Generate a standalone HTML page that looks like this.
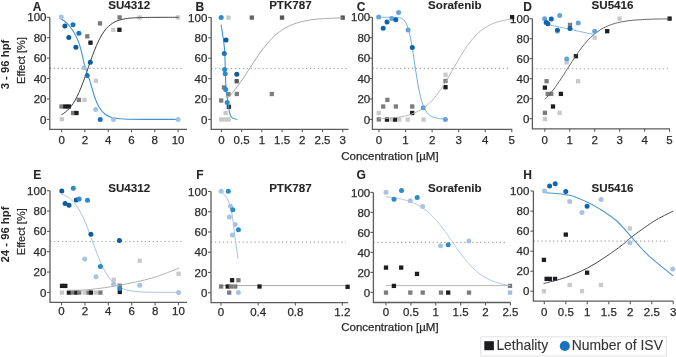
<!DOCTYPE html>
<html><head><meta charset="utf-8"><style>
html,body{margin:0;padding:0;background:#fff;width:676px;height:357px;overflow:hidden;position:relative}
</style></head><body>
<svg width="676" height="357" viewBox="0 0 676 357" style="position:absolute;left:0;top:0;font-family:'Liberation Sans', sans-serif;will-change:transform">
<rect width="676" height="357" fill="#fff"/>
<line x1="49.80" y1="68.35" x2="184.00" y2="68.35" stroke="#a8a8a8" stroke-width="1.1" stroke-dasharray="1.3 2.65"/>
<path d="M49.80,17.30 L49.80,129.30 L187.00,129.30" fill="none" stroke="#5c5c5c" stroke-width="1.3"/>
<line x1="46.80" y1="119.40" x2="49.80" y2="119.40" stroke="#5c5c5c" stroke-width="1.1"/>
<text x="46.50" y="123.50" font-size="11.5" text-anchor="end" font-weight="normal" fill="#2a2a2a" stroke="#2a2a2a" stroke-width="0.25" >0</text>
<line x1="46.80" y1="98.98" x2="49.80" y2="98.98" stroke="#5c5c5c" stroke-width="1.1"/>
<text x="46.50" y="103.08" font-size="11.5" text-anchor="end" font-weight="normal" fill="#2a2a2a" stroke="#2a2a2a" stroke-width="0.25" >20</text>
<line x1="46.80" y1="78.56" x2="49.80" y2="78.56" stroke="#5c5c5c" stroke-width="1.1"/>
<text x="46.50" y="82.66" font-size="11.5" text-anchor="end" font-weight="normal" fill="#2a2a2a" stroke="#2a2a2a" stroke-width="0.25" >40</text>
<line x1="46.80" y1="58.14" x2="49.80" y2="58.14" stroke="#5c5c5c" stroke-width="1.1"/>
<text x="46.50" y="62.24" font-size="11.5" text-anchor="end" font-weight="normal" fill="#2a2a2a" stroke="#2a2a2a" stroke-width="0.25" >60</text>
<line x1="46.80" y1="37.72" x2="49.80" y2="37.72" stroke="#5c5c5c" stroke-width="1.1"/>
<text x="46.50" y="41.82" font-size="11.5" text-anchor="end" font-weight="normal" fill="#2a2a2a" stroke="#2a2a2a" stroke-width="0.25" >80</text>
<line x1="46.80" y1="17.30" x2="49.80" y2="17.30" stroke="#5c5c5c" stroke-width="1.1"/>
<text x="46.50" y="21.40" font-size="11.5" text-anchor="end" font-weight="normal" fill="#2a2a2a" stroke="#2a2a2a" stroke-width="0.25" >100</text>
<line x1="61.60" y1="129.3" x2="61.60" y2="132.3" stroke="#5c5c5c" stroke-width="1.1"/>
<text x="61.60" y="144.20" font-size="11.5" text-anchor="middle" font-weight="normal" fill="#2a2a2a" stroke="#2a2a2a" stroke-width="0.25" >0</text>
<line x1="84.90" y1="129.3" x2="84.90" y2="132.3" stroke="#5c5c5c" stroke-width="1.1"/>
<text x="84.90" y="144.20" font-size="11.5" text-anchor="middle" font-weight="normal" fill="#2a2a2a" stroke="#2a2a2a" stroke-width="0.25" >2</text>
<line x1="108.20" y1="129.3" x2="108.20" y2="132.3" stroke="#5c5c5c" stroke-width="1.1"/>
<text x="108.20" y="144.20" font-size="11.5" text-anchor="middle" font-weight="normal" fill="#2a2a2a" stroke="#2a2a2a" stroke-width="0.25" >4</text>
<line x1="131.50" y1="129.3" x2="131.50" y2="132.3" stroke="#5c5c5c" stroke-width="1.1"/>
<text x="131.50" y="144.20" font-size="11.5" text-anchor="middle" font-weight="normal" fill="#2a2a2a" stroke="#2a2a2a" stroke-width="0.25" >6</text>
<line x1="154.80" y1="129.3" x2="154.80" y2="132.3" stroke="#5c5c5c" stroke-width="1.1"/>
<text x="154.80" y="144.20" font-size="11.5" text-anchor="middle" font-weight="normal" fill="#2a2a2a" stroke="#2a2a2a" stroke-width="0.25" >8</text>
<line x1="178.10" y1="129.3" x2="178.10" y2="132.3" stroke="#5c5c5c" stroke-width="1.1"/>
<text x="178.10" y="144.20" font-size="11.5" text-anchor="middle" font-weight="normal" fill="#2a2a2a" stroke="#2a2a2a" stroke-width="0.25" >10</text>
<line x1="211.20" y1="68.45" x2="348.00" y2="68.45" stroke="#a8a8a8" stroke-width="1.1" stroke-dasharray="1.3 2.65"/>
<path d="M211.20,17.50 L211.20,129.30 L348.50,129.30" fill="none" stroke="#5c5c5c" stroke-width="1.3"/>
<line x1="208.20" y1="119.40" x2="211.20" y2="119.40" stroke="#5c5c5c" stroke-width="1.1"/>
<text x="207.30" y="123.50" font-size="11.5" text-anchor="end" font-weight="normal" fill="#2a2a2a" stroke="#2a2a2a" stroke-width="0.25" >0</text>
<line x1="208.20" y1="99.02" x2="211.20" y2="99.02" stroke="#5c5c5c" stroke-width="1.1"/>
<text x="207.30" y="103.12" font-size="11.5" text-anchor="end" font-weight="normal" fill="#2a2a2a" stroke="#2a2a2a" stroke-width="0.25" >20</text>
<line x1="208.20" y1="78.64" x2="211.20" y2="78.64" stroke="#5c5c5c" stroke-width="1.1"/>
<text x="207.30" y="82.74" font-size="11.5" text-anchor="end" font-weight="normal" fill="#2a2a2a" stroke="#2a2a2a" stroke-width="0.25" >40</text>
<line x1="208.20" y1="58.26" x2="211.20" y2="58.26" stroke="#5c5c5c" stroke-width="1.1"/>
<text x="207.30" y="62.36" font-size="11.5" text-anchor="end" font-weight="normal" fill="#2a2a2a" stroke="#2a2a2a" stroke-width="0.25" >60</text>
<line x1="208.20" y1="37.88" x2="211.20" y2="37.88" stroke="#5c5c5c" stroke-width="1.1"/>
<text x="207.30" y="41.98" font-size="11.5" text-anchor="end" font-weight="normal" fill="#2a2a2a" stroke="#2a2a2a" stroke-width="0.25" >80</text>
<line x1="208.20" y1="17.50" x2="211.20" y2="17.50" stroke="#5c5c5c" stroke-width="1.1"/>
<text x="207.30" y="21.60" font-size="11.5" text-anchor="end" font-weight="normal" fill="#2a2a2a" stroke="#2a2a2a" stroke-width="0.25" >100</text>
<line x1="221.40" y1="129.3" x2="221.40" y2="132.3" stroke="#5c5c5c" stroke-width="1.1"/>
<text x="221.40" y="144.20" font-size="11.5" text-anchor="middle" font-weight="normal" fill="#2a2a2a" stroke="#2a2a2a" stroke-width="0.25" >0</text>
<line x1="241.62" y1="129.3" x2="241.62" y2="132.3" stroke="#5c5c5c" stroke-width="1.1"/>
<text x="241.62" y="144.20" font-size="11.5" text-anchor="middle" font-weight="normal" fill="#2a2a2a" stroke="#2a2a2a" stroke-width="0.25" >0.5</text>
<line x1="261.85" y1="129.3" x2="261.85" y2="132.3" stroke="#5c5c5c" stroke-width="1.1"/>
<text x="261.85" y="144.20" font-size="11.5" text-anchor="middle" font-weight="normal" fill="#2a2a2a" stroke="#2a2a2a" stroke-width="0.25" >1</text>
<line x1="282.07" y1="129.3" x2="282.07" y2="132.3" stroke="#5c5c5c" stroke-width="1.1"/>
<text x="282.07" y="144.20" font-size="11.5" text-anchor="middle" font-weight="normal" fill="#2a2a2a" stroke="#2a2a2a" stroke-width="0.25" >1.5</text>
<line x1="302.30" y1="129.3" x2="302.30" y2="132.3" stroke="#5c5c5c" stroke-width="1.1"/>
<text x="302.30" y="144.20" font-size="11.5" text-anchor="middle" font-weight="normal" fill="#2a2a2a" stroke="#2a2a2a" stroke-width="0.25" >2</text>
<line x1="322.52" y1="129.3" x2="322.52" y2="132.3" stroke="#5c5c5c" stroke-width="1.1"/>
<text x="322.52" y="144.20" font-size="11.5" text-anchor="middle" font-weight="normal" fill="#2a2a2a" stroke="#2a2a2a" stroke-width="0.25" >2.5</text>
<line x1="342.75" y1="129.3" x2="342.75" y2="132.3" stroke="#5c5c5c" stroke-width="1.1"/>
<text x="342.75" y="144.20" font-size="11.5" text-anchor="middle" font-weight="normal" fill="#2a2a2a" stroke="#2a2a2a" stroke-width="0.25" >3</text>
<line x1="372.40" y1="68.35" x2="508.00" y2="68.35" stroke="#a8a8a8" stroke-width="1.1" stroke-dasharray="1.3 2.65"/>
<path d="M372.40,17.30 L372.40,129.30 L512.20,129.30" fill="none" stroke="#5c5c5c" stroke-width="1.3"/>
<line x1="369.40" y1="119.40" x2="372.40" y2="119.40" stroke="#5c5c5c" stroke-width="1.1"/>
<text x="370.20" y="123.50" font-size="11.5" text-anchor="end" font-weight="normal" fill="#2a2a2a" stroke="#2a2a2a" stroke-width="0.25" >0</text>
<line x1="369.40" y1="98.98" x2="372.40" y2="98.98" stroke="#5c5c5c" stroke-width="1.1"/>
<text x="370.20" y="103.08" font-size="11.5" text-anchor="end" font-weight="normal" fill="#2a2a2a" stroke="#2a2a2a" stroke-width="0.25" >20</text>
<line x1="369.40" y1="78.56" x2="372.40" y2="78.56" stroke="#5c5c5c" stroke-width="1.1"/>
<text x="370.20" y="82.66" font-size="11.5" text-anchor="end" font-weight="normal" fill="#2a2a2a" stroke="#2a2a2a" stroke-width="0.25" >40</text>
<line x1="369.40" y1="58.14" x2="372.40" y2="58.14" stroke="#5c5c5c" stroke-width="1.1"/>
<text x="370.20" y="62.24" font-size="11.5" text-anchor="end" font-weight="normal" fill="#2a2a2a" stroke="#2a2a2a" stroke-width="0.25" >60</text>
<line x1="369.40" y1="37.72" x2="372.40" y2="37.72" stroke="#5c5c5c" stroke-width="1.1"/>
<text x="370.20" y="41.82" font-size="11.5" text-anchor="end" font-weight="normal" fill="#2a2a2a" stroke="#2a2a2a" stroke-width="0.25" >80</text>
<line x1="369.40" y1="17.30" x2="372.40" y2="17.30" stroke="#5c5c5c" stroke-width="1.1"/>
<text x="370.20" y="21.40" font-size="11.5" text-anchor="end" font-weight="normal" fill="#2a2a2a" stroke="#2a2a2a" stroke-width="0.25" >100</text>
<line x1="379.00" y1="129.3" x2="379.00" y2="132.3" stroke="#5c5c5c" stroke-width="1.1"/>
<text x="379.00" y="144.20" font-size="11.5" text-anchor="middle" font-weight="normal" fill="#2a2a2a" stroke="#2a2a2a" stroke-width="0.25" >0</text>
<line x1="405.56" y1="129.3" x2="405.56" y2="132.3" stroke="#5c5c5c" stroke-width="1.1"/>
<text x="405.56" y="144.20" font-size="11.5" text-anchor="middle" font-weight="normal" fill="#2a2a2a" stroke="#2a2a2a" stroke-width="0.25" >1</text>
<line x1="432.12" y1="129.3" x2="432.12" y2="132.3" stroke="#5c5c5c" stroke-width="1.1"/>
<text x="432.12" y="144.20" font-size="11.5" text-anchor="middle" font-weight="normal" fill="#2a2a2a" stroke="#2a2a2a" stroke-width="0.25" >2</text>
<line x1="458.68" y1="129.3" x2="458.68" y2="132.3" stroke="#5c5c5c" stroke-width="1.1"/>
<text x="458.68" y="144.20" font-size="11.5" text-anchor="middle" font-weight="normal" fill="#2a2a2a" stroke="#2a2a2a" stroke-width="0.25" >3</text>
<line x1="485.24" y1="129.3" x2="485.24" y2="132.3" stroke="#5c5c5c" stroke-width="1.1"/>
<text x="485.24" y="144.20" font-size="11.5" text-anchor="middle" font-weight="normal" fill="#2a2a2a" stroke="#2a2a2a" stroke-width="0.25" >4</text>
<line x1="511.80" y1="129.3" x2="511.80" y2="132.3" stroke="#5c5c5c" stroke-width="1.1"/>
<text x="511.80" y="144.20" font-size="11.5" text-anchor="middle" font-weight="normal" fill="#2a2a2a" stroke="#2a2a2a" stroke-width="0.25" >5</text>
<line x1="532.40" y1="68.70" x2="668.00" y2="68.70" stroke="#a8a8a8" stroke-width="1.1" stroke-dasharray="1.3 2.65"/>
<path d="M532.40,18.70 L532.40,128.80 L670.00,128.80" fill="none" stroke="#5c5c5c" stroke-width="1.3"/>
<line x1="529.40" y1="118.70" x2="532.40" y2="118.70" stroke="#5c5c5c" stroke-width="1.1"/>
<text x="529.30" y="122.80" font-size="11.5" text-anchor="end" font-weight="normal" fill="#2a2a2a" stroke="#2a2a2a" stroke-width="0.25" >0</text>
<line x1="529.40" y1="98.70" x2="532.40" y2="98.70" stroke="#5c5c5c" stroke-width="1.1"/>
<text x="529.30" y="102.80" font-size="11.5" text-anchor="end" font-weight="normal" fill="#2a2a2a" stroke="#2a2a2a" stroke-width="0.25" >20</text>
<line x1="529.40" y1="78.70" x2="532.40" y2="78.70" stroke="#5c5c5c" stroke-width="1.1"/>
<text x="529.30" y="82.80" font-size="11.5" text-anchor="end" font-weight="normal" fill="#2a2a2a" stroke="#2a2a2a" stroke-width="0.25" >40</text>
<line x1="529.40" y1="58.70" x2="532.40" y2="58.70" stroke="#5c5c5c" stroke-width="1.1"/>
<text x="529.30" y="62.80" font-size="11.5" text-anchor="end" font-weight="normal" fill="#2a2a2a" stroke="#2a2a2a" stroke-width="0.25" >60</text>
<line x1="529.40" y1="38.70" x2="532.40" y2="38.70" stroke="#5c5c5c" stroke-width="1.1"/>
<text x="529.30" y="42.80" font-size="11.5" text-anchor="end" font-weight="normal" fill="#2a2a2a" stroke="#2a2a2a" stroke-width="0.25" >80</text>
<line x1="529.40" y1="18.70" x2="532.40" y2="18.70" stroke="#5c5c5c" stroke-width="1.1"/>
<text x="529.30" y="22.80" font-size="11.5" text-anchor="end" font-weight="normal" fill="#2a2a2a" stroke="#2a2a2a" stroke-width="0.25" >100</text>
<line x1="544.80" y1="128.8" x2="544.80" y2="131.8" stroke="#5c5c5c" stroke-width="1.1"/>
<text x="544.80" y="144.20" font-size="11.5" text-anchor="middle" font-weight="normal" fill="#2a2a2a" stroke="#2a2a2a" stroke-width="0.25" >0</text>
<line x1="569.75" y1="128.8" x2="569.75" y2="131.8" stroke="#5c5c5c" stroke-width="1.1"/>
<text x="569.75" y="144.20" font-size="11.5" text-anchor="middle" font-weight="normal" fill="#2a2a2a" stroke="#2a2a2a" stroke-width="0.25" >1</text>
<line x1="594.70" y1="128.8" x2="594.70" y2="131.8" stroke="#5c5c5c" stroke-width="1.1"/>
<text x="594.70" y="144.20" font-size="11.5" text-anchor="middle" font-weight="normal" fill="#2a2a2a" stroke="#2a2a2a" stroke-width="0.25" >2</text>
<line x1="619.65" y1="128.8" x2="619.65" y2="131.8" stroke="#5c5c5c" stroke-width="1.1"/>
<text x="619.65" y="144.20" font-size="11.5" text-anchor="middle" font-weight="normal" fill="#2a2a2a" stroke="#2a2a2a" stroke-width="0.25" >3</text>
<line x1="644.60" y1="128.8" x2="644.60" y2="131.8" stroke="#5c5c5c" stroke-width="1.1"/>
<text x="644.60" y="144.20" font-size="11.5" text-anchor="middle" font-weight="normal" fill="#2a2a2a" stroke="#2a2a2a" stroke-width="0.25" >4</text>
<line x1="669.55" y1="128.8" x2="669.55" y2="131.8" stroke="#5c5c5c" stroke-width="1.1"/>
<text x="669.55" y="144.20" font-size="11.5" text-anchor="middle" font-weight="normal" fill="#2a2a2a" stroke="#2a2a2a" stroke-width="0.25" >5</text>
<line x1="50.00" y1="241.55" x2="184.00" y2="241.55" stroke="#a8a8a8" stroke-width="1.1" stroke-dasharray="1.3 2.65"/>
<path d="M50.00,190.70 L50.00,302.40 L187.00,302.40" fill="none" stroke="#5c5c5c" stroke-width="1.3"/>
<line x1="47.00" y1="292.40" x2="50.00" y2="292.40" stroke="#5c5c5c" stroke-width="1.1"/>
<text x="46.30" y="296.50" font-size="11.5" text-anchor="end" font-weight="normal" fill="#2a2a2a" stroke="#2a2a2a" stroke-width="0.25" >0</text>
<line x1="47.00" y1="272.06" x2="50.00" y2="272.06" stroke="#5c5c5c" stroke-width="1.1"/>
<text x="46.30" y="276.16" font-size="11.5" text-anchor="end" font-weight="normal" fill="#2a2a2a" stroke="#2a2a2a" stroke-width="0.25" >20</text>
<line x1="47.00" y1="251.72" x2="50.00" y2="251.72" stroke="#5c5c5c" stroke-width="1.1"/>
<text x="46.30" y="255.82" font-size="11.5" text-anchor="end" font-weight="normal" fill="#2a2a2a" stroke="#2a2a2a" stroke-width="0.25" >40</text>
<line x1="47.00" y1="231.38" x2="50.00" y2="231.38" stroke="#5c5c5c" stroke-width="1.1"/>
<text x="46.30" y="235.48" font-size="11.5" text-anchor="end" font-weight="normal" fill="#2a2a2a" stroke="#2a2a2a" stroke-width="0.25" >60</text>
<line x1="47.00" y1="211.04" x2="50.00" y2="211.04" stroke="#5c5c5c" stroke-width="1.1"/>
<text x="46.30" y="215.14" font-size="11.5" text-anchor="end" font-weight="normal" fill="#2a2a2a" stroke="#2a2a2a" stroke-width="0.25" >80</text>
<line x1="47.00" y1="190.70" x2="50.00" y2="190.70" stroke="#5c5c5c" stroke-width="1.1"/>
<text x="46.30" y="194.80" font-size="11.5" text-anchor="end" font-weight="normal" fill="#2a2a2a" stroke="#2a2a2a" stroke-width="0.25" >100</text>
<line x1="61.50" y1="302.4" x2="61.50" y2="305.4" stroke="#5c5c5c" stroke-width="1.1"/>
<text x="61.50" y="314.50" font-size="11.5" text-anchor="middle" font-weight="normal" fill="#2a2a2a" stroke="#2a2a2a" stroke-width="0.25" >0</text>
<line x1="84.90" y1="302.4" x2="84.90" y2="305.4" stroke="#5c5c5c" stroke-width="1.1"/>
<text x="84.90" y="314.50" font-size="11.5" text-anchor="middle" font-weight="normal" fill="#2a2a2a" stroke="#2a2a2a" stroke-width="0.25" >2</text>
<line x1="108.30" y1="302.4" x2="108.30" y2="305.4" stroke="#5c5c5c" stroke-width="1.1"/>
<text x="108.30" y="314.50" font-size="11.5" text-anchor="middle" font-weight="normal" fill="#2a2a2a" stroke="#2a2a2a" stroke-width="0.25" >4</text>
<line x1="131.70" y1="302.4" x2="131.70" y2="305.4" stroke="#5c5c5c" stroke-width="1.1"/>
<text x="131.70" y="314.50" font-size="11.5" text-anchor="middle" font-weight="normal" fill="#2a2a2a" stroke="#2a2a2a" stroke-width="0.25" >6</text>
<line x1="155.10" y1="302.4" x2="155.10" y2="305.4" stroke="#5c5c5c" stroke-width="1.1"/>
<text x="155.10" y="314.50" font-size="11.5" text-anchor="middle" font-weight="normal" fill="#2a2a2a" stroke="#2a2a2a" stroke-width="0.25" >8</text>
<line x1="178.50" y1="302.4" x2="178.50" y2="305.4" stroke="#5c5c5c" stroke-width="1.1"/>
<text x="178.50" y="314.50" font-size="11.5" text-anchor="middle" font-weight="normal" fill="#2a2a2a" stroke="#2a2a2a" stroke-width="0.25" >10</text>
<line x1="211.00" y1="242.10" x2="346.00" y2="242.10" stroke="#a8a8a8" stroke-width="1.1" stroke-dasharray="1.3 2.65"/>
<path d="M211.00,191.50 L211.00,302.60 L348.20,302.60" fill="none" stroke="#5c5c5c" stroke-width="1.3"/>
<line x1="208.00" y1="292.70" x2="211.00" y2="292.70" stroke="#5c5c5c" stroke-width="1.1"/>
<text x="207.30" y="296.80" font-size="11.5" text-anchor="end" font-weight="normal" fill="#2a2a2a" stroke="#2a2a2a" stroke-width="0.25" >0</text>
<line x1="208.00" y1="272.46" x2="211.00" y2="272.46" stroke="#5c5c5c" stroke-width="1.1"/>
<text x="207.30" y="276.56" font-size="11.5" text-anchor="end" font-weight="normal" fill="#2a2a2a" stroke="#2a2a2a" stroke-width="0.25" >20</text>
<line x1="208.00" y1="252.22" x2="211.00" y2="252.22" stroke="#5c5c5c" stroke-width="1.1"/>
<text x="207.30" y="256.32" font-size="11.5" text-anchor="end" font-weight="normal" fill="#2a2a2a" stroke="#2a2a2a" stroke-width="0.25" >40</text>
<line x1="208.00" y1="231.98" x2="211.00" y2="231.98" stroke="#5c5c5c" stroke-width="1.1"/>
<text x="207.30" y="236.08" font-size="11.5" text-anchor="end" font-weight="normal" fill="#2a2a2a" stroke="#2a2a2a" stroke-width="0.25" >60</text>
<line x1="208.00" y1="211.74" x2="211.00" y2="211.74" stroke="#5c5c5c" stroke-width="1.1"/>
<text x="207.30" y="215.84" font-size="11.5" text-anchor="end" font-weight="normal" fill="#2a2a2a" stroke="#2a2a2a" stroke-width="0.25" >80</text>
<line x1="208.00" y1="191.50" x2="211.00" y2="191.50" stroke="#5c5c5c" stroke-width="1.1"/>
<text x="207.30" y="195.60" font-size="11.5" text-anchor="end" font-weight="normal" fill="#2a2a2a" stroke="#2a2a2a" stroke-width="0.25" >100</text>
<line x1="221.00" y1="302.6" x2="221.00" y2="305.6" stroke="#5c5c5c" stroke-width="1.1"/>
<text x="221.00" y="316.10" font-size="11.5" text-anchor="middle" font-weight="normal" fill="#2a2a2a" stroke="#2a2a2a" stroke-width="0.25" >0</text>
<line x1="258.20" y1="302.6" x2="258.20" y2="305.6" stroke="#5c5c5c" stroke-width="1.1"/>
<text x="258.20" y="316.10" font-size="11.5" text-anchor="middle" font-weight="normal" fill="#2a2a2a" stroke="#2a2a2a" stroke-width="0.25" >0.4</text>
<line x1="295.40" y1="302.6" x2="295.40" y2="305.6" stroke="#5c5c5c" stroke-width="1.1"/>
<text x="295.40" y="316.10" font-size="11.5" text-anchor="middle" font-weight="normal" fill="#2a2a2a" stroke="#2a2a2a" stroke-width="0.25" >0.8</text>
<line x1="342.30" y1="302.6" x2="342.30" y2="305.6" stroke="#5c5c5c" stroke-width="1.1"/>
<text x="342.30" y="316.10" font-size="11.5" text-anchor="middle" font-weight="normal" fill="#2a2a2a" stroke="#2a2a2a" stroke-width="0.25" >1.2</text>
<line x1="373.40" y1="242.40" x2="507.70" y2="242.40" stroke="#a8a8a8" stroke-width="1.1" stroke-dasharray="1.3 2.65"/>
<path d="M373.40,192.40 L373.40,302.50 L510.60,302.50" fill="none" stroke="#5c5c5c" stroke-width="1.3"/>
<line x1="370.40" y1="292.40" x2="373.40" y2="292.40" stroke="#5c5c5c" stroke-width="1.1"/>
<text x="370.20" y="296.50" font-size="11.5" text-anchor="end" font-weight="normal" fill="#2a2a2a" stroke="#2a2a2a" stroke-width="0.25" >0</text>
<line x1="370.40" y1="272.40" x2="373.40" y2="272.40" stroke="#5c5c5c" stroke-width="1.1"/>
<text x="370.20" y="276.50" font-size="11.5" text-anchor="end" font-weight="normal" fill="#2a2a2a" stroke="#2a2a2a" stroke-width="0.25" >20</text>
<line x1="370.40" y1="252.40" x2="373.40" y2="252.40" stroke="#5c5c5c" stroke-width="1.1"/>
<text x="370.20" y="256.50" font-size="11.5" text-anchor="end" font-weight="normal" fill="#2a2a2a" stroke="#2a2a2a" stroke-width="0.25" >40</text>
<line x1="370.40" y1="232.40" x2="373.40" y2="232.40" stroke="#5c5c5c" stroke-width="1.1"/>
<text x="370.20" y="236.50" font-size="11.5" text-anchor="end" font-weight="normal" fill="#2a2a2a" stroke="#2a2a2a" stroke-width="0.25" >60</text>
<line x1="370.40" y1="212.40" x2="373.40" y2="212.40" stroke="#5c5c5c" stroke-width="1.1"/>
<text x="370.20" y="216.50" font-size="11.5" text-anchor="end" font-weight="normal" fill="#2a2a2a" stroke="#2a2a2a" stroke-width="0.25" >80</text>
<line x1="370.40" y1="192.40" x2="373.40" y2="192.40" stroke="#5c5c5c" stroke-width="1.1"/>
<text x="370.20" y="196.50" font-size="11.5" text-anchor="end" font-weight="normal" fill="#2a2a2a" stroke="#2a2a2a" stroke-width="0.25" >100</text>
<line x1="386.00" y1="302.5" x2="386.00" y2="305.5" stroke="#5c5c5c" stroke-width="1.1"/>
<text x="386.00" y="316.10" font-size="11.5" text-anchor="middle" font-weight="normal" fill="#2a2a2a" stroke="#2a2a2a" stroke-width="0.25" >0</text>
<line x1="410.88" y1="302.5" x2="410.88" y2="305.5" stroke="#5c5c5c" stroke-width="1.1"/>
<text x="410.88" y="316.10" font-size="11.5" text-anchor="middle" font-weight="normal" fill="#2a2a2a" stroke="#2a2a2a" stroke-width="0.25" >0.5</text>
<line x1="435.75" y1="302.5" x2="435.75" y2="305.5" stroke="#5c5c5c" stroke-width="1.1"/>
<text x="435.75" y="316.10" font-size="11.5" text-anchor="middle" font-weight="normal" fill="#2a2a2a" stroke="#2a2a2a" stroke-width="0.25" >1</text>
<line x1="460.62" y1="302.5" x2="460.62" y2="305.5" stroke="#5c5c5c" stroke-width="1.1"/>
<text x="460.62" y="316.10" font-size="11.5" text-anchor="middle" font-weight="normal" fill="#2a2a2a" stroke="#2a2a2a" stroke-width="0.25" >1.5</text>
<line x1="485.50" y1="302.5" x2="485.50" y2="305.5" stroke="#5c5c5c" stroke-width="1.1"/>
<text x="485.50" y="316.10" font-size="11.5" text-anchor="middle" font-weight="normal" fill="#2a2a2a" stroke="#2a2a2a" stroke-width="0.25" >2</text>
<line x1="510.38" y1="302.5" x2="510.38" y2="305.5" stroke="#5c5c5c" stroke-width="1.1"/>
<text x="510.38" y="316.10" font-size="11.5" text-anchor="middle" font-weight="normal" fill="#2a2a2a" stroke="#2a2a2a" stroke-width="0.25" >2.5</text>
<line x1="533.40" y1="241.15" x2="668.00" y2="241.15" stroke="#a8a8a8" stroke-width="1.1" stroke-dasharray="1.3 2.65"/>
<path d="M533.40,191.00 L533.40,301.20 L673.20,301.20" fill="none" stroke="#5c5c5c" stroke-width="1.3"/>
<line x1="530.40" y1="291.30" x2="533.40" y2="291.30" stroke="#5c5c5c" stroke-width="1.1"/>
<text x="529.30" y="295.40" font-size="11.5" text-anchor="end" font-weight="normal" fill="#2a2a2a" stroke="#2a2a2a" stroke-width="0.25" >0</text>
<line x1="530.40" y1="271.24" x2="533.40" y2="271.24" stroke="#5c5c5c" stroke-width="1.1"/>
<text x="529.30" y="275.34" font-size="11.5" text-anchor="end" font-weight="normal" fill="#2a2a2a" stroke="#2a2a2a" stroke-width="0.25" >20</text>
<line x1="530.40" y1="251.18" x2="533.40" y2="251.18" stroke="#5c5c5c" stroke-width="1.1"/>
<text x="529.30" y="255.28" font-size="11.5" text-anchor="end" font-weight="normal" fill="#2a2a2a" stroke="#2a2a2a" stroke-width="0.25" >40</text>
<line x1="530.40" y1="231.12" x2="533.40" y2="231.12" stroke="#5c5c5c" stroke-width="1.1"/>
<text x="529.30" y="235.22" font-size="11.5" text-anchor="end" font-weight="normal" fill="#2a2a2a" stroke="#2a2a2a" stroke-width="0.25" >60</text>
<line x1="530.40" y1="211.06" x2="533.40" y2="211.06" stroke="#5c5c5c" stroke-width="1.1"/>
<text x="529.30" y="215.16" font-size="11.5" text-anchor="end" font-weight="normal" fill="#2a2a2a" stroke="#2a2a2a" stroke-width="0.25" >80</text>
<line x1="530.40" y1="191.00" x2="533.40" y2="191.00" stroke="#5c5c5c" stroke-width="1.1"/>
<text x="529.30" y="195.10" font-size="11.5" text-anchor="end" font-weight="normal" fill="#2a2a2a" stroke="#2a2a2a" stroke-width="0.25" >100</text>
<line x1="544.30" y1="301.2" x2="544.30" y2="304.2" stroke="#5c5c5c" stroke-width="1.1"/>
<text x="544.30" y="316.10" font-size="11.5" text-anchor="middle" font-weight="normal" fill="#2a2a2a" stroke="#2a2a2a" stroke-width="0.25" >0</text>
<line x1="565.80" y1="301.2" x2="565.80" y2="304.2" stroke="#5c5c5c" stroke-width="1.1"/>
<text x="565.80" y="316.10" font-size="11.5" text-anchor="middle" font-weight="normal" fill="#2a2a2a" stroke="#2a2a2a" stroke-width="0.25" >0.5</text>
<line x1="587.30" y1="301.2" x2="587.30" y2="304.2" stroke="#5c5c5c" stroke-width="1.1"/>
<text x="587.30" y="316.10" font-size="11.5" text-anchor="middle" font-weight="normal" fill="#2a2a2a" stroke="#2a2a2a" stroke-width="0.25" >1</text>
<line x1="608.80" y1="301.2" x2="608.80" y2="304.2" stroke="#5c5c5c" stroke-width="1.1"/>
<text x="608.80" y="316.10" font-size="11.5" text-anchor="middle" font-weight="normal" fill="#2a2a2a" stroke="#2a2a2a" stroke-width="0.25" >1.5</text>
<line x1="630.30" y1="301.2" x2="630.30" y2="304.2" stroke="#5c5c5c" stroke-width="1.1"/>
<text x="630.30" y="316.10" font-size="11.5" text-anchor="middle" font-weight="normal" fill="#2a2a2a" stroke="#2a2a2a" stroke-width="0.25" >2</text>
<line x1="651.80" y1="301.2" x2="651.80" y2="304.2" stroke="#5c5c5c" stroke-width="1.1"/>
<text x="651.80" y="316.10" font-size="11.5" text-anchor="middle" font-weight="normal" fill="#2a2a2a" stroke="#2a2a2a" stroke-width="0.25" >2.5</text>
<line x1="673.30" y1="301.2" x2="673.30" y2="304.2" stroke="#5c5c5c" stroke-width="1.1"/>
<text x="673.30" y="316.10" font-size="11.5" text-anchor="middle" font-weight="normal" fill="#2a2a2a" stroke="#2a2a2a" stroke-width="0.25" >3</text>
<text x="37.20" y="11.10" font-size="12" text-anchor="middle" font-weight="bold" fill="#262626" stroke="#262626" stroke-width="0.1" >A</text>
<text x="199.80" y="11.10" font-size="12" text-anchor="middle" font-weight="bold" fill="#262626" stroke="#262626" stroke-width="0.1" >B</text>
<text x="361.00" y="11.10" font-size="12" text-anchor="middle" font-weight="bold" fill="#262626" stroke="#262626" stroke-width="0.1" >C</text>
<text x="527.70" y="11.10" font-size="12" text-anchor="middle" font-weight="bold" fill="#262626" stroke="#262626" stroke-width="0.1" >D</text>
<text x="37.20" y="179.40" font-size="12" text-anchor="middle" font-weight="bold" fill="#262626" stroke="#262626" stroke-width="0.1" >E</text>
<text x="199.80" y="179.40" font-size="12" text-anchor="middle" font-weight="bold" fill="#262626" stroke="#262626" stroke-width="0.1" >F</text>
<text x="361.20" y="179.40" font-size="12" text-anchor="middle" font-weight="bold" fill="#262626" stroke="#262626" stroke-width="0.1" >G</text>
<text x="527.60" y="179.40" font-size="12" text-anchor="middle" font-weight="bold" fill="#262626" stroke="#262626" stroke-width="0.1" >H</text>
<text x="129.20" y="8.60" font-size="11.6" text-anchor="middle" font-weight="bold" fill="#262626" stroke="#262626" stroke-width="0.1" >SU4312</text>
<text x="290.40" y="8.60" font-size="11.6" text-anchor="middle" font-weight="bold" fill="#262626" stroke="#262626" stroke-width="0.1" >PTK787</text>
<text x="454.80" y="8.80" font-size="11.6" text-anchor="middle" font-weight="bold" fill="#262626" stroke="#262626" stroke-width="0.1" >Sorafenib</text>
<text x="612.50" y="8.80" font-size="11.6" text-anchor="middle" font-weight="bold" fill="#262626" stroke="#262626" stroke-width="0.1" >SU5416</text>
<text x="129.20" y="192.10" font-size="11.6" text-anchor="middle" font-weight="bold" fill="#262626" stroke="#262626" stroke-width="0.1" >SU4312</text>
<text x="290.40" y="192.10" font-size="11.6" text-anchor="middle" font-weight="bold" fill="#262626" stroke="#262626" stroke-width="0.1" >PTK787</text>
<text x="454.80" y="192.10" font-size="11.6" text-anchor="middle" font-weight="bold" fill="#262626" stroke="#262626" stroke-width="0.1" >Sorafenib</text>
<text x="612.50" y="192.10" font-size="11.6" text-anchor="middle" font-weight="bold" fill="#262626" stroke="#262626" stroke-width="0.1" >SU5416</text>
<text x="389.90" y="159.70" font-size="11.5" text-anchor="middle" font-weight="normal" fill="#2a2a2a" stroke="#2a2a2a" stroke-width="0.25" >Concentration [µM]</text>
<text x="389.90" y="330.70" font-size="11.5" text-anchor="middle" font-weight="normal" fill="#2a2a2a" stroke="#2a2a2a" stroke-width="0.25" >Concentration [µM]</text>
<text transform="translate(8.8,64.5) rotate(-90)" font-size="11.3" font-weight="bold" text-anchor="middle" fill="#262626">3 - 96 hpf</text>
<text transform="translate(25.2,60.5) rotate(-90)" font-size="11" text-anchor="middle" fill="#2a2a2a" stroke="#2a2a2a" stroke-width="0.2">Effect [%]</text>
<text transform="translate(8.8,234.5) rotate(-90)" font-size="11.3" font-weight="bold" text-anchor="middle" fill="#262626">24 - 96 hpf</text>
<text transform="translate(25.2,231.7) rotate(-90)" font-size="11" text-anchor="middle" fill="#2a2a2a" stroke="#2a2a2a" stroke-width="0.2">Effect [%]</text>
<rect x="480.8" y="336.8" width="185.6" height="19.2" fill="#fff" stroke="#e2e2e2" stroke-width="1"/>
<rect x="484.3" y="341.2" width="9.6" height="9" fill="#1d1c21"/>
<text x="496.40" y="350.30" font-size="13.9" text-anchor="start" font-weight="normal" fill="#333" stroke="#333" stroke-width="0.1" >Lethality</text>
<circle cx="564.80" cy="346.00" r="5.1" fill="#1872bf"/>
<text x="571.80" y="350.30" font-size="13.9" text-anchor="start" font-weight="normal" fill="#333" stroke="#333" stroke-width="0.1" >Number of ISV</text>
<rect x="59.35" y="104.35" width="4.3" height="4.3" fill="#7c7c7c"/>
<rect x="63.15" y="104.35" width="4.3" height="4.3" fill="#1d1c21"/>
<rect x="66.75" y="104.35" width="4.3" height="4.3" fill="#1d1c21"/>
<rect x="70.95" y="110.85" width="4.3" height="4.3" fill="#7c7c7c"/>
<rect x="74.35" y="110.85" width="4.3" height="4.3" fill="#1d1c21"/>
<rect x="59.75" y="117.05" width="4.3" height="4.3" fill="#c9c9c9"/>
<rect x="76.75" y="97.75" width="4.3" height="4.3" fill="#7c7c7c"/>
<rect x="82.35" y="97.75" width="4.3" height="4.3" fill="#c9c9c9"/>
<rect x="93.75" y="78.65" width="4.3" height="4.3" fill="#c9c9c9"/>
<rect x="85.15" y="34.15" width="4.3" height="4.3" fill="#7c7c7c"/>
<rect x="88.35" y="40.55" width="4.3" height="4.3" fill="#1d1c21"/>
<rect x="97.85" y="21.25" width="4.3" height="4.3" fill="#7c7c7c"/>
<rect x="111.15" y="27.65" width="4.3" height="4.3" fill="#c9c9c9"/>
<rect x="117.25" y="27.65" width="4.3" height="4.3" fill="#1d1c21"/>
<rect x="117.45" y="15.25" width="4.3" height="4.3" fill="#7c7c7c"/>
<rect x="137.45" y="15.35" width="4.3" height="4.3" fill="#c9c9c9"/>
<rect x="175.85" y="15.25" width="4.3" height="4.3" fill="#c9c9c9"/>
<path d="M61.40,114.66 L63.35,113.55 L65.30,112.20 L67.25,110.57 L69.21,108.61 L71.16,106.27 L73.11,103.52 L75.06,100.32 L77.01,96.64 L78.97,92.47 L80.92,87.85 L82.87,82.83 L84.82,77.47 L86.77,71.91 L88.72,66.25 L90.67,60.65 L92.63,55.23 L94.58,50.11 L96.53,45.38 L98.48,41.10 L100.43,37.29 L102.38,33.96 L104.34,31.10 L106.29,28.66 L108.24,26.60 L110.19,24.89 L112.14,23.47 L114.09,22.30 L116.05,21.35 L118.00,20.57 L119.95,19.94 L121.90,19.42 L123.85,19.01 L125.81,18.67 L127.76,18.40 L129.71,18.18 L131.66,18.01 L133.61,17.87 L135.56,17.76 L137.51,17.67 L139.47,17.59 L141.42,17.54 L143.37,17.49 L145.32,17.45 L147.27,17.42 L149.22,17.40 L151.18,17.38 L153.13,17.36 L155.08,17.35 L157.03,17.34 L158.98,17.33 L160.94,17.33 L162.89,17.32 L164.84,17.32 L166.79,17.31 L168.74,17.31 L170.69,17.31 L172.64,17.31 L174.60,17.31 L176.55,17.30 L178.50,17.30" fill="none" stroke="#404040" stroke-width="1.0"/>
<path d="M61.00,18.70 C61.67,19.17 63.60,20.28 65.00,21.50 C66.40,22.72 67.92,24.22 69.40,26.00 C70.88,27.78 72.58,30.05 73.90,32.20 C75.22,34.35 76.27,36.48 77.30,38.90 C78.33,41.32 79.28,44.02 80.10,46.70 C80.92,49.38 81.53,52.22 82.20,55.00 C82.87,57.78 83.32,60.50 84.10,63.40 C84.88,66.30 85.97,69.58 86.90,72.40 C87.83,75.22 88.95,78.03 89.70,80.30 C90.45,82.57 90.57,83.18 91.40,86.00 C92.23,88.82 93.40,93.65 94.70,97.20 C96.00,100.75 97.52,104.50 99.20,107.30 C100.88,110.10 102.75,112.32 104.80,114.00 C106.85,115.68 109.07,116.62 111.50,117.40 C113.93,118.18 116.65,118.38 119.40,118.70 C122.15,119.02 122.90,119.18 128.00,119.30 C133.10,119.42 141.58,119.38 150.00,119.40 C158.42,119.42 173.75,119.40 178.50,119.40" fill="none" stroke="#4393d2" stroke-width="1.1" stroke-linecap="round"/>
<circle cx="61.30" cy="16.90" r="2.5" fill="#a8c2e4"/>
<circle cx="64.90" cy="25.90" r="2.5" fill="#0c5c9e"/>
<circle cx="73.00" cy="24.80" r="2.5" fill="#1b73bb"/>
<circle cx="78.90" cy="33.20" r="2.5" fill="#1b73bb"/>
<circle cx="68.80" cy="37.50" r="2.5" fill="#0c5c9e"/>
<circle cx="75.90" cy="47.30" r="2.5" fill="#0c5c9e"/>
<circle cx="90.30" cy="62.30" r="2.5" fill="#0c5c9e"/>
<circle cx="84.00" cy="67.80" r="2.5" fill="#a8c2e4"/>
<circle cx="87.20" cy="75.50" r="2.5" fill="#1b73bb"/>
<circle cx="95.70" cy="109.40" r="2.5" fill="#a8c2e4"/>
<circle cx="100.20" cy="119.40" r="2.5" fill="#1b73bb"/>
<circle cx="113.50" cy="119.40" r="2.5" fill="#a8c2e4"/>
<circle cx="178.10" cy="119.40" r="2.5" fill="#a8c2e4"/>
<rect x="226.35" y="15.45" width="4.3" height="4.3" fill="#c9c9c9"/>
<rect x="249.65" y="15.45" width="4.3" height="4.3" fill="#666"/>
<rect x="279.85" y="15.45" width="4.3" height="4.3" fill="#555"/>
<rect x="340.55" y="15.45" width="4.3" height="4.3" fill="#555"/>
<rect x="234.55" y="79.05" width="4.3" height="4.3" fill="#555"/>
<rect x="221.85" y="85.25" width="4.3" height="4.3" fill="#7c7c7c"/>
<rect x="226.35" y="92.05" width="4.3" height="4.3" fill="#7c7c7c"/>
<rect x="234.65" y="91.85" width="4.3" height="4.3" fill="#7c7c7c"/>
<rect x="269.65" y="91.85" width="4.3" height="4.3" fill="#7c7c7c"/>
<rect x="219.05" y="98.35" width="4.3" height="4.3" fill="#7c7c7c"/>
<rect x="226.75" y="104.65" width="4.3" height="4.3" fill="#333"/>
<rect x="223.55" y="110.85" width="4.3" height="4.3" fill="#c9c9c9"/>
<rect x="219.05" y="117.35" width="4.3" height="4.3" fill="#c9c9c9"/>
<rect x="222.85" y="117.35" width="4.3" height="4.3" fill="#c9c9c9"/>
<rect x="226.45" y="117.35" width="4.3" height="4.3" fill="#c9c9c9"/>
<path d="M227.60,98.14 L229.52,96.12 L231.43,93.97 L233.35,91.69 L235.27,89.29 L237.18,86.76 L239.10,84.14 L241.02,81.41 L242.93,78.61 L244.85,75.73 L246.77,72.81 L248.68,69.86 L250.60,66.91 L252.52,63.96 L254.43,61.04 L256.35,58.17 L258.27,55.37 L260.18,52.65 L262.10,50.02 L264.02,47.51 L265.93,45.11 L267.85,42.83 L269.77,40.69 L271.68,38.67 L273.60,36.79 L275.52,35.04 L277.43,33.42 L279.35,31.92 L281.27,30.54 L283.18,29.27 L285.10,28.12 L287.02,27.06 L288.93,26.10 L290.85,25.23 L292.77,24.44 L294.68,23.73 L296.60,23.08 L298.52,22.50 L300.43,21.97 L302.35,21.50 L304.27,21.08 L306.18,20.70 L308.10,20.36 L310.02,20.05 L311.93,19.78 L313.85,19.53 L315.77,19.31 L317.68,19.12 L319.60,18.94 L321.52,18.79 L323.43,18.65 L325.35,18.52 L327.27,18.41 L329.18,18.31 L331.10,18.22 L333.02,18.15 L334.93,18.08 L336.85,18.01 L338.77,17.96 L340.68,17.91 L342.60,17.86" fill="none" stroke="#9d9d9d" stroke-width="0.9"/>
<path d="M221.20,25.10 C221.77,29.25 223.83,40.02 224.60,50.00 C225.37,59.98 225.23,76.17 225.80,85.00 C226.37,93.83 227.17,97.77 228.00,103.00 C228.83,108.23 229.32,113.68 230.80,116.40 C232.28,119.12 235.88,118.82 236.90,119.30" fill="none" stroke="#3d97d2" stroke-width="1.1" stroke-linecap="round"/>
<circle cx="221.20" cy="17.60" r="2.5" fill="#2a8bc8"/>
<circle cx="226.00" cy="40.00" r="2.5" fill="#0c5c9e"/>
<circle cx="224.30" cy="53.40" r="2.5" fill="#1f72b5"/>
<circle cx="224.60" cy="69.60" r="2.5" fill="#2a8bc8"/>
<circle cx="225.20" cy="73.70" r="2.5" fill="#2a8bc8"/>
<circle cx="236.80" cy="74.30" r="2.5" fill="#0c5c9e"/>
<circle cx="225.70" cy="89.50" r="2.5" fill="#2a8bc8"/>
<circle cx="227.20" cy="102.40" r="2.5" fill="#2a8bc8"/>
<rect x="385.25" y="97.75" width="4.3" height="4.3" fill="#7c7c7c"/>
<rect x="381.05" y="104.35" width="4.3" height="4.3" fill="#7c7c7c"/>
<rect x="393.75" y="104.35" width="4.3" height="4.3" fill="#7c7c7c"/>
<rect x="410.05" y="104.35" width="4.3" height="4.3" fill="#7c7c7c"/>
<rect x="376.65" y="110.85" width="4.3" height="4.3" fill="#c9c9c9"/>
<rect x="410.05" y="110.85" width="4.3" height="4.3" fill="#1d1c21"/>
<rect x="376.65" y="117.25" width="4.3" height="4.3" fill="#7c7c7c"/>
<rect x="384.85" y="117.45" width="4.3" height="4.3" fill="#1d1c21"/>
<rect x="389.85" y="117.45" width="4.3" height="4.3" fill="#c9c9c9"/>
<rect x="393.05" y="117.45" width="4.3" height="4.3" fill="#1d1c21"/>
<rect x="397.15" y="117.45" width="4.3" height="4.3" fill="#c9c9c9"/>
<rect x="405.65" y="117.45" width="4.3" height="4.3" fill="#c9c9c9"/>
<rect x="421.45" y="117.45" width="4.3" height="4.3" fill="#c9c9c9"/>
<rect x="443.35" y="72.65" width="4.3" height="4.3" fill="#c9c9c9"/>
<rect x="443.35" y="78.85" width="4.3" height="4.3" fill="#7c7c7c"/>
<rect x="443.35" y="85.05" width="4.3" height="4.3" fill="#1d1c21"/>
<rect x="509.95" y="15.05" width="4.3" height="4.3" fill="#1d1c21"/>
<path d="M378.90,118.81 L381.11,118.71 L383.32,118.60 L385.52,118.47 L387.73,118.32 L389.94,118.14 L392.15,117.94 L394.36,117.70 L396.57,117.43 L398.77,117.11 L400.98,116.74 L403.19,116.32 L405.40,115.83 L407.61,115.26 L409.82,114.62 L412.02,113.87 L414.23,113.02 L416.44,112.04 L418.65,110.93 L420.86,109.67 L423.07,108.25 L425.27,106.64 L427.48,104.85 L429.69,102.84 L431.90,100.62 L434.11,98.17 L436.32,95.49 L438.52,92.59 L440.73,89.48 L442.94,86.16 L445.15,82.66 L447.36,79.00 L449.57,75.23 L451.77,71.38 L453.98,67.50 L456.19,63.63 L458.40,59.81 L460.61,56.08 L462.82,52.49 L465.02,49.07 L467.23,45.83 L469.44,42.81 L471.65,40.01 L473.86,37.43 L476.07,35.08 L478.27,32.96 L480.48,31.04 L482.69,29.33 L484.90,27.81 L487.11,26.45 L489.32,25.26 L491.52,24.21 L493.73,23.29 L495.94,22.49 L498.15,21.79 L500.36,21.18 L502.57,20.65 L504.77,20.19 L506.98,19.79 L509.19,19.45 L511.40,19.15" fill="none" stroke="#b0b0b0" stroke-width="0.9"/>
<path d="M378.90,17.30 L379.45,17.30 L380.01,17.30 L380.56,17.30 L381.12,17.30 L381.67,17.30 L382.22,17.30 L382.78,17.30 L383.33,17.30 L383.89,17.30 L384.44,17.30 L385.00,17.30 L385.55,17.30 L386.10,17.30 L386.66,17.30 L387.21,17.30 L387.77,17.30 L388.32,17.30 L388.88,17.30 L389.43,17.30 L389.98,17.30 L390.54,17.30 L391.09,17.30 L391.65,17.30 L392.20,17.31 L392.75,17.31 L393.31,17.31 L393.86,17.32 L394.42,17.33 L394.97,17.34 L395.52,17.36 L396.08,17.38 L396.63,17.40 L397.19,17.44 L397.74,17.49 L398.30,17.55 L398.85,17.62 L399.40,17.72 L399.96,17.84 L400.51,17.99 L401.07,18.17 L401.62,18.40 L402.17,18.69 L402.73,19.03 L403.28,19.44 L403.84,19.94 L404.39,20.54 L404.95,21.25 L405.50,22.09 L406.05,23.07 L406.61,24.21 L407.16,25.53 L407.72,27.04 L408.27,28.77 L408.82,30.71 L409.38,32.88 L409.93,35.29 L410.49,37.92 L411.04,40.78 L411.60,43.86 L412.15,47.12 L412.70,50.55 L413.26,54.12 L413.81,57.78 L414.37,61.49 L414.92,65.23 L415.47,68.93 L416.03,72.58 L416.58,76.13 L417.14,79.56 L417.69,82.83 L418.25,85.94 L418.80,88.86 L419.35,91.60 L419.91,94.14 L420.46,96.49 L421.02,98.66 L421.57,100.64 L422.12,102.45 L422.68,104.09 L423.23,105.59 L423.79,106.94 L424.34,108.16 L424.90,109.27 L425.45,110.26 L426.00,111.16 L426.56,111.96 L427.11,112.69 L427.67,113.34 L428.22,113.92 L428.77,114.45 L429.33,114.92 L429.88,115.35 L430.44,115.73 L430.99,116.07 L431.55,116.38 L432.10,116.66 L432.65,116.91 L433.21,117.14 L433.76,117.34 L434.32,117.53 L434.87,117.69 L435.42,117.84 L435.98,117.98 L436.53,118.10 L437.09,118.21 L437.64,118.31 L438.20,118.41 L438.75,118.49 L439.30,118.57 L439.86,118.63 L440.41,118.70 L440.97,118.75 L441.52,118.81 L442.07,118.85 L442.63,118.90 L443.18,118.94 L443.74,118.97 L444.29,119.01 L444.85,119.04 L445.40,119.06" fill="none" stroke="#6eabde" stroke-width="1.0"/>
<circle cx="378.70" cy="17.10" r="2.5" fill="#64a3d8"/>
<circle cx="387.00" cy="22.00" r="2.5" fill="#0e65ae"/>
<circle cx="383.20" cy="28.30" r="2.5" fill="#0e65ae"/>
<circle cx="391.80" cy="18.40" r="2.5" fill="#64a3d8"/>
<circle cx="395.80" cy="19.80" r="2.5" fill="#0e65ae"/>
<circle cx="398.60" cy="12.60" r="2.5" fill="#64a3d8"/>
<circle cx="408.10" cy="29.90" r="2.5" fill="#64a3d8"/>
<circle cx="412.30" cy="47.60" r="2.5" fill="#0e65ae"/>
<circle cx="423.20" cy="107.70" r="2.5" fill="#64a3d8"/>
<circle cx="445.40" cy="119.60" r="2.5" fill="#64a3d8"/>
<rect x="555.25" y="29.55" width="4.3" height="4.3" fill="#c9c9c9"/>
<rect x="567.85" y="22.75" width="4.3" height="4.3" fill="#7c7c7c"/>
<rect x="592.55" y="35.55" width="4.3" height="4.3" fill="#c9c9c9"/>
<rect x="564.55" y="60.25" width="4.3" height="4.3" fill="#c9c9c9"/>
<rect x="573.75" y="54.05" width="4.3" height="4.3" fill="#1d1c21"/>
<rect x="544.45" y="79.05" width="4.3" height="4.3" fill="#7c7c7c"/>
<rect x="575.95" y="79.05" width="4.3" height="4.3" fill="#c9c9c9"/>
<rect x="542.75" y="85.45" width="4.3" height="4.3" fill="#1d1c21"/>
<rect x="545.55" y="91.75" width="4.3" height="4.3" fill="#7c7c7c"/>
<rect x="549.05" y="91.75" width="4.3" height="4.3" fill="#7c7c7c"/>
<rect x="558.75" y="91.75" width="4.3" height="4.3" fill="#1d1c21"/>
<rect x="550.85" y="104.35" width="4.3" height="4.3" fill="#1d1c21"/>
<rect x="542.75" y="110.65" width="4.3" height="4.3" fill="#7c7c7c"/>
<rect x="557.45" y="110.65" width="4.3" height="4.3" fill="#c9c9c9"/>
<rect x="542.75" y="116.85" width="4.3" height="4.3" fill="#c9c9c9"/>
<rect x="617.45" y="16.45" width="4.3" height="4.3" fill="#c9c9c9"/>
<rect x="605.05" y="29.05" width="4.3" height="4.3" fill="#1d1c21"/>
<rect x="667.45" y="16.45" width="4.3" height="4.3" fill="#1d1c21"/>
<path d="M544.90,99.40 L546.98,97.26 L549.06,94.97 L551.13,92.50 L553.21,89.88 L555.29,87.11 L557.37,84.20 L559.45,81.17 L561.53,78.04 L563.61,74.83 L565.68,71.57 L567.76,68.29 L569.84,65.00 L571.92,61.75 L574.00,58.56 L576.08,55.46 L578.15,52.45 L580.23,49.58 L582.31,46.84 L584.39,44.26 L586.47,41.84 L588.54,39.58 L590.62,37.49 L592.70,35.57 L594.78,33.80 L596.86,32.19 L598.94,30.73 L601.01,29.41 L603.09,28.21 L605.17,27.14 L607.25,26.18 L609.33,25.32 L611.41,24.55 L613.49,23.86 L615.56,23.26 L617.64,22.72 L619.72,22.24 L621.80,21.82 L623.88,21.44 L625.96,21.11 L628.03,20.82 L630.11,20.57 L632.19,20.34 L634.27,20.14 L636.35,19.96 L638.42,19.81 L640.50,19.68 L642.58,19.56 L644.66,19.45 L646.74,19.36 L648.82,19.28 L650.89,19.21 L652.97,19.15 L655.05,19.09 L657.13,19.04 L659.21,19.00 L661.29,18.96 L663.37,18.93 L665.44,18.90 L667.52,18.88 L669.60,18.86" fill="none" stroke="#555555" stroke-width="0.9"/>
<line x1="547.9" y1="24.6" x2="594.7" y2="34.7" stroke="#7fb3e0" stroke-width="0.9"/>
<circle cx="544.60" cy="18.70" r="2.5" fill="#64a3d8"/>
<circle cx="551.30" cy="19.00" r="2.5" fill="#0e65ae"/>
<circle cx="546.20" cy="22.40" r="2.5" fill="#0e65ae"/>
<circle cx="547.90" cy="23.80" r="2.5" fill="#0e65ae"/>
<circle cx="559.70" cy="15.60" r="2.5" fill="#64a3d8"/>
<circle cx="557.40" cy="30.30" r="2.5" fill="#0e65ae"/>
<circle cx="570.00" cy="28.50" r="2.5" fill="#0e65ae"/>
<circle cx="578.20" cy="23.10" r="2.5" fill="#64a3d8"/>
<circle cx="594.70" cy="31.30" r="2.5" fill="#64a3d8"/>
<circle cx="566.70" cy="59.00" r="2.5" fill="#64a3d8"/>
<rect x="59.85" y="283.75" width="4.3" height="4.3" fill="#1d1c21"/>
<rect x="63.15" y="283.75" width="4.3" height="4.3" fill="#1d1c21"/>
<rect x="59.85" y="290.45" width="4.3" height="4.3" fill="#c9c9c9"/>
<rect x="66.75" y="290.45" width="4.3" height="4.3" fill="#1d1c21"/>
<rect x="70.55" y="290.45" width="4.3" height="4.3" fill="#7c7c7c"/>
<rect x="74.35" y="290.45" width="4.3" height="4.3" fill="#1d1c21"/>
<rect x="77.05" y="290.45" width="4.3" height="4.3" fill="#7c7c7c"/>
<rect x="82.55" y="290.45" width="4.3" height="4.3" fill="#c9c9c9"/>
<rect x="86.35" y="290.45" width="4.3" height="4.3" fill="#7c7c7c"/>
<rect x="88.85" y="290.45" width="4.3" height="4.3" fill="#1d1c21"/>
<rect x="93.85" y="290.45" width="4.3" height="4.3" fill="#c9c9c9"/>
<rect x="98.25" y="290.45" width="4.3" height="4.3" fill="#7c7c7c"/>
<rect x="111.65" y="277.65" width="4.3" height="4.3" fill="#c9c9c9"/>
<rect x="137.55" y="258.65" width="4.3" height="4.3" fill="#c9c9c9"/>
<rect x="176.45" y="271.65" width="4.3" height="4.3" fill="#c9c9c9"/>
<rect x="117.65" y="283.55" width="4.3" height="4.3" fill="#7c7c7c"/>
<rect x="117.65" y="289.85" width="4.3" height="4.3" fill="#1d1c21"/>
<path d="M67.70,290.30 C71.42,290.17 81.32,290.35 90.00,289.50 C98.68,288.65 109.47,287.12 119.80,285.20 C130.13,283.28 142.20,280.82 152.00,278.00 C161.80,275.18 174.17,269.92 178.60,268.30" fill="none" stroke="#a8a8a8" stroke-width="0.9" stroke-linecap="round"/>
<path d="M62.00,194.23 L63.94,195.02 L65.89,195.99 L67.83,197.15 L69.77,198.55 L71.72,200.22 L73.66,202.21 L75.60,204.55 L77.55,207.27 L79.49,210.42 L81.43,213.99 L83.38,218.00 L85.32,222.42 L87.26,227.20 L89.21,232.28 L91.15,237.55 L93.09,242.91 L95.04,248.24 L96.98,253.43 L98.92,258.37 L100.87,262.97 L102.81,267.19 L104.75,270.98 L106.70,274.33 L108.64,277.26 L110.58,279.79 L112.53,281.94 L114.47,283.76 L116.41,285.29 L118.36,286.57 L120.30,287.63 L122.24,288.50 L124.19,289.22 L126.13,289.81 L128.07,290.29 L130.02,290.69 L131.96,291.01 L133.90,291.27 L135.85,291.48 L137.79,291.66 L139.73,291.80 L141.68,291.91 L143.62,292.00 L145.56,292.08 L147.51,292.14 L149.45,292.19 L151.39,292.23 L153.34,292.26 L155.28,292.29 L157.22,292.31 L159.17,292.33 L161.11,292.34 L163.05,292.35 L165.00,292.36 L166.94,292.37 L168.88,292.37 L170.83,292.38 L172.77,292.38 L174.71,292.39 L176.66,292.39 L178.60,292.39" fill="none" stroke="#a9c1e3" stroke-width="1.0"/>
<circle cx="61.80" cy="190.90" r="2.5" fill="#0c5c9e"/>
<circle cx="73.30" cy="188.20" r="2.5" fill="#2a8bc8"/>
<circle cx="65.10" cy="203.50" r="2.5" fill="#0c5c9e"/>
<circle cx="69.00" cy="205.20" r="2.5" fill="#0c5c9e"/>
<circle cx="76.30" cy="199.90" r="2.5" fill="#0c5c9e"/>
<circle cx="79.10" cy="199.00" r="2.5" fill="#2a8bc8"/>
<circle cx="87.50" cy="200.20" r="2.5" fill="#2a8bc8"/>
<circle cx="90.90" cy="234.30" r="2.5" fill="#0c5c9e"/>
<circle cx="119.40" cy="240.50" r="2.5" fill="#0c5c9e"/>
<circle cx="84.70" cy="259.00" r="2.5" fill="#a8c2e4"/>
<circle cx="100.40" cy="266.60" r="2.5" fill="#2a8bc8"/>
<circle cx="96.00" cy="276.70" r="2.5" fill="#a8c2e4"/>
<circle cx="113.60" cy="284.20" r="2.5" fill="#a8c2e4"/>
<circle cx="139.70" cy="285.30" r="2.5" fill="#a8c2e4"/>
<circle cx="178.60" cy="292.40" r="2.5" fill="#a8c2e4"/>
<circle cx="119.80" cy="288.50" r="2.5" fill="#2a8bc8"/>
<line x1="221" y1="285.6" x2="345.4" y2="285.6" stroke="#a0a0a0" stroke-width="0.9"/>
<rect x="229.95" y="278.05" width="4.3" height="4.3" fill="#1d1c21"/>
<rect x="236.25" y="278.05" width="4.3" height="4.3" fill="#7c7c7c"/>
<rect x="218.95" y="284.35" width="4.3" height="4.3" fill="#7c7c7c"/>
<rect x="225.55" y="284.35" width="4.3" height="4.3" fill="#1d1c21"/>
<rect x="228.75" y="284.35" width="4.3" height="4.3" fill="#7c7c7c"/>
<rect x="233.15" y="284.35" width="4.3" height="4.3" fill="#7c7c7c"/>
<rect x="257.35" y="284.35" width="4.3" height="4.3" fill="#1d1c21"/>
<rect x="227.05" y="290.45" width="4.3" height="4.3" fill="#7c7c7c"/>
<rect x="345.45" y="284.65" width="4.3" height="4.3" fill="#1d1c21"/>
<path d="M221.80,192.30 C222.73,193.42 225.72,195.45 227.40,199.00 C229.08,202.55 230.63,207.20 231.90,213.60 C233.17,220.00 233.98,229.92 235.00,237.40 C236.02,244.88 237.50,254.98 238.00,258.50" fill="none" stroke="#a9c1e3" stroke-width="1.0" stroke-linecap="round"/>
<circle cx="221.20" cy="191.20" r="2.5" fill="#a8c2e4"/>
<circle cx="228.30" cy="191.20" r="2.5" fill="#2a8bc8"/>
<circle cx="230.50" cy="206.30" r="2.5" fill="#a8c2e4"/>
<circle cx="232.80" cy="209.70" r="2.5" fill="#2a8bc8"/>
<circle cx="229.40" cy="217.00" r="2.5" fill="#a8c2e4"/>
<circle cx="235.20" cy="224.50" r="2.5" fill="#a8c2e4"/>
<circle cx="238.40" cy="229.80" r="2.5" fill="#2a8bc8"/>
<circle cx="232.40" cy="234.90" r="2.5" fill="#a8c2e4"/>
<circle cx="238.40" cy="292.60" r="2.5" fill="#a8c2e4"/>
<line x1="386" y1="285.6" x2="510" y2="285.6" stroke="#b8b8b8" stroke-width="1.0"/>
<rect x="383.85" y="265.45" width="4.3" height="4.3" fill="#1d1c21"/>
<rect x="399.05" y="265.45" width="4.3" height="4.3" fill="#1d1c21"/>
<rect x="414.85" y="271.75" width="4.3" height="4.3" fill="#1d1c21"/>
<rect x="391.75" y="283.75" width="4.3" height="4.3" fill="#1d1c21"/>
<rect x="383.85" y="290.45" width="4.3" height="4.3" fill="#7c7c7c"/>
<rect x="408.15" y="290.45" width="4.3" height="4.3" fill="#7c7c7c"/>
<rect x="420.55" y="290.45" width="4.3" height="4.3" fill="#7c7c7c"/>
<rect x="438.85" y="290.45" width="4.3" height="4.3" fill="#7c7c7c"/>
<rect x="446.05" y="290.45" width="4.3" height="4.3" fill="#1d1c21"/>
<rect x="466.85" y="290.45" width="4.3" height="4.3" fill="#7c7c7c"/>
<rect x="507.85" y="283.75" width="4.3" height="4.3" fill="#7c7c7c"/>
<rect x="507.8" y="290.4" width="4.4" height="4.4" fill="#9fbfe6"/>
<path d="M386.00,196.85 L388.06,197.05 L390.13,197.27 L392.19,197.52 L394.25,197.81 L396.32,198.13 L398.38,198.49 L400.44,198.90 L402.51,199.37 L404.57,199.88 L406.63,200.47 L408.70,201.12 L410.76,201.86 L412.82,202.67 L414.89,203.59 L416.95,204.60 L419.01,205.73 L421.08,206.97 L423.14,208.34 L425.20,209.84 L427.27,211.48 L429.33,213.27 L431.39,215.20 L433.46,217.28 L435.52,219.51 L437.58,221.88 L439.65,224.38 L441.71,227.01 L443.77,229.74 L445.84,232.57 L447.90,235.47 L449.96,238.42 L452.03,241.40 L454.09,244.38 L456.15,247.33 L458.22,250.24 L460.28,253.09 L462.34,255.84 L464.41,258.48 L466.47,261.01 L468.53,263.40 L470.60,265.65 L472.66,267.76 L474.72,269.71 L476.79,271.53 L478.85,273.19 L480.91,274.72 L482.98,276.11 L485.04,277.37 L487.10,278.52 L489.17,279.55 L491.23,280.48 L493.29,281.31 L495.36,282.06 L497.42,282.73 L499.48,283.32 L501.55,283.85 L503.61,284.32 L505.67,284.74 L507.74,285.11 L509.80,285.44" fill="none" stroke="#b3c9e7" stroke-width="1.0"/>
<circle cx="386.00" cy="192.30" r="2.5" fill="#a8c2e4"/>
<circle cx="394.00" cy="199.30" r="2.5" fill="#2a8bc8"/>
<circle cx="401.50" cy="190.40" r="2.5" fill="#2a8bc8"/>
<circle cx="410.30" cy="200.70" r="2.5" fill="#a8c2e4"/>
<circle cx="417.20" cy="197.60" r="2.5" fill="#2a8bc8"/>
<circle cx="422.60" cy="206.50" r="2.5" fill="#a8c2e4"/>
<circle cx="440.50" cy="245.80" r="2.5" fill="#a8c2e4"/>
<circle cx="448.20" cy="244.70" r="2.5" fill="#2a8bc8"/>
<circle cx="468.90" cy="240.90" r="2.5" fill="#a8c2e4"/>
<rect x="541.75" y="257.75" width="4.3" height="4.3" fill="#1d1c21"/>
<rect x="563.65" y="232.45" width="4.3" height="4.3" fill="#1d1c21"/>
<rect x="544.45" y="276.75" width="4.3" height="4.3" fill="#1d1c21"/>
<rect x="547.65" y="276.75" width="4.3" height="4.3" fill="#1d1c21"/>
<rect x="552.85" y="276.75" width="4.3" height="4.3" fill="#1d1c21"/>
<rect x="584.95" y="270.55" width="4.3" height="4.3" fill="#1d1c21"/>
<rect x="567.55" y="282.85" width="4.3" height="4.3" fill="#c9c9c9"/>
<rect x="598.75" y="282.85" width="4.3" height="4.3" fill="#c9c9c9"/>
<rect x="541.75" y="289.05" width="4.3" height="4.3" fill="#c9c9c9"/>
<rect x="579.85" y="289.05" width="4.3" height="4.3" fill="#c9c9c9"/>
<rect x="627.65" y="226.25" width="4.3" height="4.3" fill="#c9c9c9"/>
<path d="M543.90,283.50 C547.55,282.48 558.55,279.97 565.80,277.40 C573.05,274.83 580.70,271.57 587.40,268.10 C594.10,264.63 600.20,260.45 606.00,256.60 C611.80,252.75 617.95,248.25 622.20,245.00 C626.45,241.75 626.33,240.98 631.50,237.10 C636.67,233.22 646.32,226.02 653.20,221.70 C660.08,217.38 669.53,212.95 672.80,211.20" fill="none" stroke="#4a4a4a" stroke-width="1.0" stroke-linecap="round"/>
<path d="M544.50,192.50 C548.52,192.93 561.78,193.63 568.60,195.10 C575.42,196.57 580.17,198.97 585.40,201.30 C590.63,203.63 594.77,205.82 600.00,209.10 C605.23,212.38 611.55,216.33 616.80,221.00 C622.05,225.67 627.30,232.43 631.50,237.10 C635.70,241.77 638.55,245.37 642.00,249.00 C645.45,252.63 647.08,254.48 652.20,258.90 C657.32,263.32 669.28,272.73 672.70,275.50" fill="none" stroke="#4a95d3" stroke-width="1.05" stroke-linecap="round"/>
<circle cx="544.50" cy="190.90" r="2.5" fill="#a8c2e4"/>
<circle cx="549.60" cy="185.90" r="2.5" fill="#0e65ae"/>
<circle cx="555.20" cy="183.70" r="2.5" fill="#0e65ae"/>
<circle cx="565.80" cy="191.50" r="2.5" fill="#0e65ae"/>
<circle cx="569.70" cy="201.60" r="2.5" fill="#a8c2e4"/>
<circle cx="587.10" cy="206.30" r="2.5" fill="#0e65ae"/>
<circle cx="582.00" cy="212.50" r="2.5" fill="#a8c2e4"/>
<circle cx="601.10" cy="199.60" r="2.5" fill="#a8c2e4"/>
<circle cx="629.80" cy="242.70" r="2.5" fill="#a8c2e4"/>
<circle cx="672.70" cy="268.90" r="2.5" fill="#a8c2e4"/>
</svg>
</body></html>
